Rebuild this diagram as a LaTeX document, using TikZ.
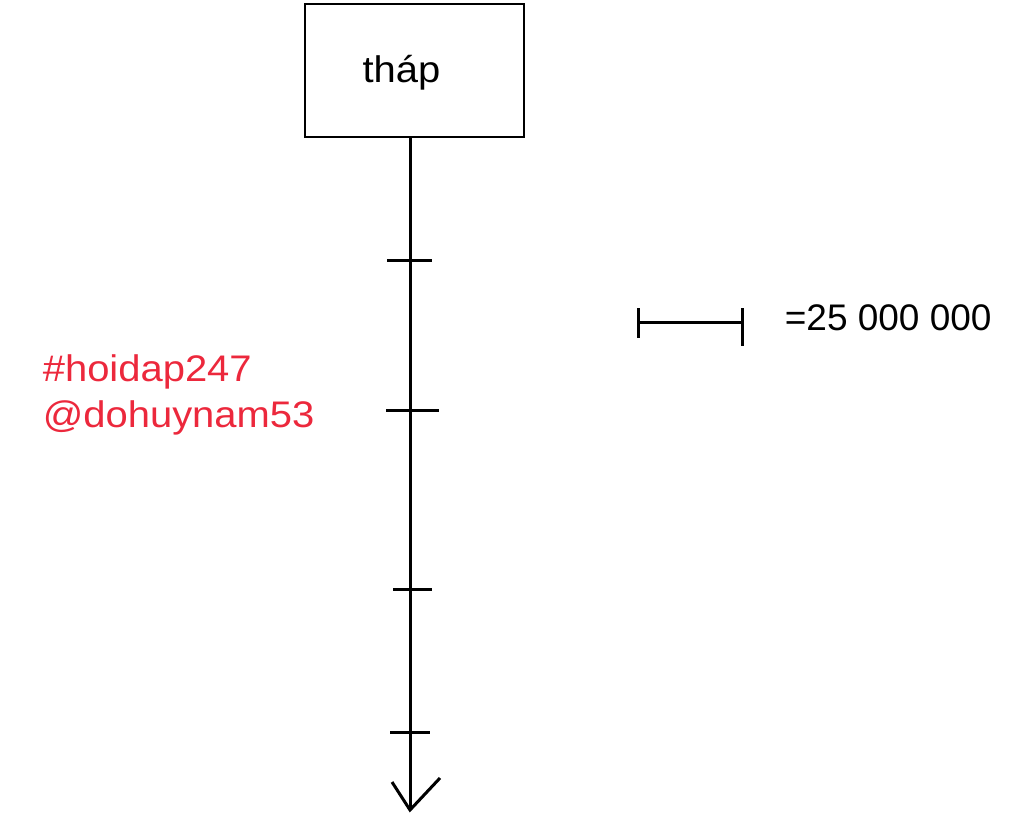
\documentclass[tikz,border=0pt]{standalone}
\usepackage{fontspec}
\setmainfont{Liberation Sans}
\newfontfamily\widesans[FakeStretch=1.08]{Liberation Sans}
\definecolor{tagred}{RGB}{236,40,60}
\begin{document}
\begin{tikzpicture}[x=1pt,y=-1pt,line width=3pt, every node/.style={font=\fontsize{37}{46}\selectfont}]
        \useasboundingbox (0,0) rectangle (1024,823);
        \node [draw, line width=2pt, minimum width=219pt, minimum height=133pt, inner sep=0pt,
          label={[xshift=-13pt, yshift=-2pt, font=\widesans\fontsize{37}{46}\selectfont]center:tháp}] (thap) at (414.5,70.5) {};
        \coordinate (tip) at (410,810);
        \draw (thap.south -| tip) -- (tip);
        \draw (387,260) -- (432,260);
        \draw (386,410) -- (439,410);
        \draw (393,589) -- (432,589);
        \draw (390,732) -- (430,732);
        \draw (392,782) -- (tip) -- (440,778);
        \draw (638,322) -- (742,322);
        \draw (638,308) -- (638,338);
        \draw (742,308) -- (742,346);
        \node [anchor=west] (scale) at (780,318) {=25 000 000};
        \node [anchor=west, text=tagred, align=left, font=\widesans\fontsize{37}{46}\selectfont] (tag) at (38,395) {\#hoidap247\\@dohuynam53};
      \end{tikzpicture}
\end{document}
